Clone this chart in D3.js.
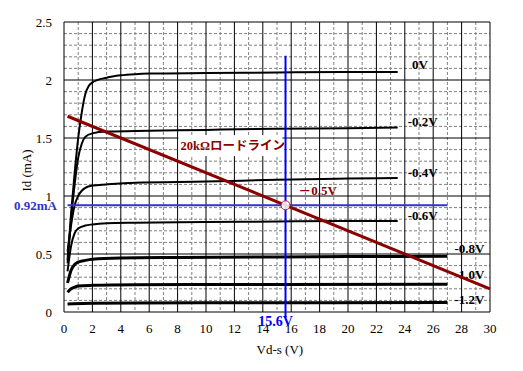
<!DOCTYPE html>
<html>
<head>
<meta charset="utf-8">
<script src="https://cdn.jsdelivr.net/npm/d3@7"></script>
<style>
  body { margin: 0; background: #fff; }
  svg { display: block; }
  text { font-family: "Liberation Serif", "Noto Sans CJK JP", serif; }
</style>
</head>
<body>
<div id="chart"></div>
<script>
// Curvas Id x Vd-s para cada Vg
const vgLabels = ["0V", "-0.2V", "-0.4V", "-0.6V", "-0.8V", "-1.0V", "-1.2V"];

const curve0 = [[0.25, 0.45], [0.5, 0.85], [0.75, 1.2], [1.0, 1.5], [1.25, 1.72], [1.5, 1.88], [1.75, 1.95], [2, 1.98], [3, 2.02], [4, 2.04], [5, 2.05], [6, 2.055], [10, 2.06], [15, 2.065], [20, 2.07], [23.5, 2.07]];
const curve02 = [[0.25, 0.42], [0.5, 0.8], [0.75, 1.1], [1.0, 1.33], [1.25, 1.45], [1.5, 1.51], [2, 1.54], [3, 1.555], [5, 1.56], [10, 1.57], [15, 1.58], [20, 1.585], [23.5, 1.59]];
const curve04 = [[0.25, 0.52], [0.5, 0.75], [0.75, 0.92], [1.0, 1.0], [1.25, 1.045], [1.5, 1.07], [2, 1.09], [3, 1.1], [5, 1.115], [10, 1.125], [15, 1.14], [20, 1.15], [23.5, 1.155]];
const curve06 = [[0.25, 0.35], [0.5, 0.57], [0.75, 0.68], [1.0, 0.72], [1.5, 0.745], [2, 0.755], [3, 0.765], [5, 0.77], [10, 0.775], [15, 0.78], [20, 0.785], [23.5, 0.785]];
const curve08 = [[0.25, 0.25], [0.5, 0.36], [0.75, 0.41], [1.0, 0.43], [1.5, 0.445], [2, 0.455], [4, 0.465], [8, 0.47], [15, 0.475], [20, 0.478], [27, 0.48]];
const curve10 = [[0.25, 0.17], [0.5, 0.2], [0.75, 0.215], [1.0, 0.225], [2, 0.23], [5, 0.235], [15, 0.238], [27, 0.24]];
const curve12 = [[0.25, 0.07], [2, 0.075], [5, 0.078], [15, 0.08], [27, 0.082]];
const curves = [curve0, curve02, curve04, curve06, curve08, curve10, curve12];

// Reta de carga 20kΩ e ponto de operação
const loadLine = [[0.25, 1.6875], [30, 0.2]];
const opPoint = [15.6, 0.92];

const xTicks = d3.range(0, 31, 2);
const yTicks = [0, 0.5, 1, 1.5, 2, 2.5];

const width = 523, height = 371;
const margin = { top: 22, right: 33, bottom: 59, left: 64 };

const svg = d3.select("#chart").append("svg")
  .attr("width", width)
  .attr("height", height);

const x = d3.scaleLinear().domain([0, 30]).range([margin.left, width - margin.right]);
const y = d3.scaleLinear().domain([0, 2.5]).range([height - margin.bottom, margin.top]);

// Grade tracejada (1V e 0.1mA)
svg.append("g").selectAll("line")
  .data(d3.range(1, 30, 2))
  .join("line")
  .attr("x1", d => x(d)).attr("x2", d => x(d))
  .attr("y1", y(2.5)).attr("y2", y(0))
  .attr("stroke", "#808080").attr("stroke-dasharray", "3,2");

svg.append("g").selectAll("line")
  .data(d3.range(1, 25).filter(d => d % 5 !== 0).map(d => d / 10))
  .join("line")
  .attr("x1", x(0)).attr("x2", x(30))
  .attr("y1", d => y(d)).attr("y2", d => y(d))
  .attr("stroke", "#808080").attr("stroke-dasharray", "3,2");

// Grade sólida (2V e 0.5mA)
svg.append("g").selectAll("line")
  .data(xTicks)
  .join("line")
  .attr("x1", d => x(d)).attr("x2", d => x(d))
  .attr("y1", y(2.5)).attr("y2", y(0))
  .attr("stroke", "#000").attr("stroke-width", 1);

svg.append("g").selectAll("line")
  .data(yTicks)
  .join("line")
  .attr("x1", x(0)).attr("x2", x(30))
  .attr("y1", d => y(d)).attr("y2", d => y(d))
  .attr("stroke", "#000").attr("stroke-width", 1);

// Curvas características
const line = d3.line().x(d => x(d[0])).y(d => y(d[1])).curve(d3.curveMonotoneX);
svg.append("g").selectAll("path")
  .data(curves)
  .join("path")
  .attr("d", line)
  .attr("fill", "none")
  .attr("stroke", "#000")
  .attr("stroke-width", (d, i) => i < 4 ? 2 : 3);

// Rótulos das curvas
const labelPos = [[24.5, 2.13], [24.2, 1.64], [24.2, 1.2], [24.2, 0.83], [27.5, 0.55], [27.5, 0.32], [27.5, 0.105]];
svg.append("g").selectAll("text")
  .data(vgLabels)
  .join("text")
  .attr("x", (d, i) => x(labelPos[i][0]))
  .attr("y", (d, i) => y(labelPos[i][1]))
  .attr("dy", "0.35em")
  .attr("font-size", "13px")
  .attr("font-weight", "bold")
  .attr("fill", "#000")
  .text(d => d);

// Linha azul horizontal do ponto de operação
svg.append("line")
  .attr("x1", x(0.25)).attr("x2", x(27))
  .attr("y1", y(opPoint[1])).attr("y2", y(opPoint[1]))
  .attr("stroke", "#3333cc").attr("stroke-width", 2);

// Reta de carga
svg.append("path")
  .attr("d", d3.line().x(d => x(d[0])).y(d => y(d[1]))(loadLine))
  .attr("stroke", "#8b0000").attr("stroke-width", 3).attr("fill", "none");

svg.append("line")
  .attr("x1", x(opPoint[0])).attr("x2", x(opPoint[0]))
  .attr("y1", y(2.21)).attr("y2", y(-0.05))
  .attr("stroke", "#0000ff").attr("stroke-width", 2);

svg.append("circle")
  .attr("cx", x(opPoint[0])).attr("cy", y(opPoint[1]))
  .attr("r", 4.5)
  .attr("fill", "#fff").attr("fill-opacity", 0.85)
  .attr("stroke", "#b22222").attr("stroke-width", 1);

// Texto da reta de carga com fundo branco
const llx = x(8.2), lly = y(1.43);
svg.append("rect")
  .attr("x", llx - 2).attr("y", lly - 11)
  .attr("width", 104).attr("height", 21)
  .attr("fill", "#fff");
svg.append("text")
  .attr("x", llx).attr("y", lly)
  .attr("dy", "0.35em")
  .attr("font-size", "12.5px").attr("font-weight", "bold")
  .attr("fill", "#8b0000")
  .text("20kΩロードライン");

svg.append("text")
  .attr("x", x(16.5)).attr("y", y(1.05))
  .attr("dy", "0.35em")
  .attr("font-size", "13px").attr("font-weight", "bold")
  .attr("fill", "#8b0000")
  .text("－0.5V");

// Rótulos azuis
svg.append("text")
  .attr("x", 14).attr("y", y(opPoint[1]))
  .attr("dy", "0.35em")
  .attr("font-size", "13px").attr("font-weight", "bold")
  .attr("fill", "#3333cc")
  .text("0.92mA");

svg.append("text")
  .attr("x", x(opPoint[0]) - 10).attr("y", y(-0.08))
  .attr("dy", "0.35em")
  .attr("text-anchor", "middle")
  .attr("font-size", "14px").attr("font-weight", "bold")
  .attr("fill", "#0000ff")
  .text("15.6V");

// Eixos
svg.append("g").selectAll("text")
  .data(xTicks)
  .join("text")
  .attr("x", d => x(d)).attr("y", y(0) + 16)
  .attr("dy", "0.35em")
  .attr("text-anchor", "middle")
  .attr("font-size", "13px")
  .text(d => d);

svg.append("g").selectAll("text")
  .data(yTicks)
  .join("text")
  .attr("x", x(0) - 12).attr("y", d => y(d))
  .attr("dy", "0.35em")
  .attr("text-anchor", "end")
  .attr("font-size", "13px")
  .text(d => d);

svg.append("text")
  .attr("x", x(15.2)).attr("y", 349)
  .attr("dy", "0.35em")
  .attr("text-anchor", "middle")
  .attr("font-size", "13px")
  .text("Vd-s (V)");

svg.append("text")
  .attr("transform", `translate(26, ${y(1.22)}) rotate(-90)`)
  .attr("dy", "0.35em")
  .attr("text-anchor", "middle")
  .attr("font-size", "13px")
  .text("Id (mA)");
</script>
</body>
</html>
